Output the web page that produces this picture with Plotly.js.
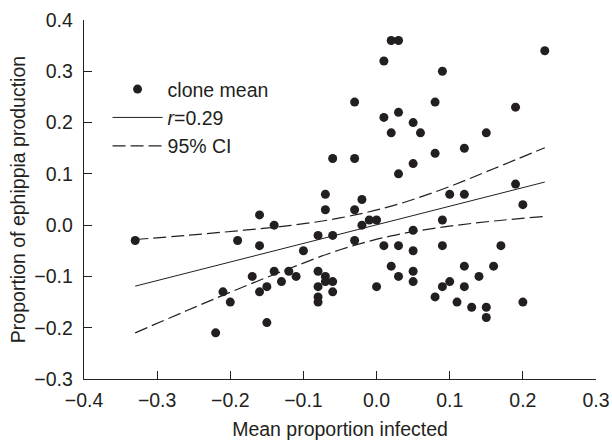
<!DOCTYPE html>
<html>
<head>
<meta charset="utf-8">
<script src="https://cdn.plot.ly/plotly-3.0.1.min.js"></script>
<style>html,body{margin:0;padding:0;background:#fff}#chart{width:612px;height:445px}</style>
</head>
<body>
<div id="chart"></div>
<script>
// Clone means: mean proportion infected (x) vs proportion of ephippia production (y)
const infected = [-0.33,-0.22,-0.21,-0.20,-0.19,-0.17,-0.16,-0.16,-0.16,-0.15,-0.15,-0.14,-0.14,-0.13,-0.12,-0.11,-0.10,
  -0.08,-0.08,-0.08,-0.08,-0.08,-0.07,-0.07,-0.07,-0.07,-0.06,-0.06,-0.06,-0.06,
  -0.03,-0.03,-0.03,-0.03,-0.02,-0.02,-0.01,0.00,0.00,
  0.01,0.01,0.01,0.02,0.02,0.02,0.03,0.03,0.03,0.03,0.03,
  0.05,0.05,0.05,0.05,0.05,0.05,0.06,0.08,0.08,0.08,0.09,0.09,0.09,0.09,0.10,0.10,0.11,
  0.12,0.12,0.12,0.12,0.13,0.14,0.15,0.15,0.15,0.16,0.17,0.19,0.19,0.20,0.20,0.23];
const ephippia = [-0.03,-0.21,-0.13,-0.15,-0.03,-0.10,0.02,-0.04,-0.13,-0.12,-0.19,0.00,-0.09,-0.11,-0.09,-0.10,-0.05,
  -0.02,-0.09,-0.12,-0.14,-0.15,0.06,0.03,-0.10,-0.11,0.13,-0.02,-0.11,-0.13,
  0.24,0.13,0.03,-0.03,0.05,0.00,0.01,0.01,-0.12,
  0.32,0.21,-0.04,0.36,0.18,-0.08,0.36,0.22,0.10,-0.04,-0.10,
  0.20,0.12,-0.01,-0.05,-0.09,-0.11,0.18,0.24,0.14,-0.14,0.30,0.01,-0.04,-0.12,0.06,-0.11,-0.15,
  0.15,0.06,-0.08,-0.12,-0.16,-0.10,0.18,-0.16,-0.18,-0.08,-0.04,0.23,0.08,0.04,-0.15,0.34];

// Regression line (r = 0.29) endpoints
const fitX = [-0.33, 0.23];
const fitY = [-0.119, 0.084];

// 95% confidence band
const ciX     = [-0.33, -0.26, -0.19, -0.12, -0.05, 0.02, 0.09, 0.16, 0.23];
const ciUpper = [-0.028, -0.020, -0.011, -0.001, 0.014, 0.037, 0.070, 0.110, 0.151];
const ciLower = [-0.210, -0.167, -0.125, -0.085, -0.048, -0.021, -0.004, 0.008, 0.017];

const xTicks = [-0.4, -0.3, -0.2, -0.1, 0.0, 0.1, 0.2, 0.3];
const yTicks = [-0.3, -0.2, -0.1, 0.0, 0.1, 0.2, 0.3, 0.4];

const ink = '#231f20';
const fontFam = '"Liberation Sans", Arial, Helvetica, sans-serif';
const fs = 19.5;

const traces = [
  {x: infected, y: ephippia, type: 'scatter', mode: 'markers', name: 'clone mean',
   marker: {size: 9, color: ink}},
  {x: fitX, y: fitY, type: 'scatter', mode: 'lines', name: '<i>r</i>=0.29',
   line: {color: ink, width: 1}},
  {x: ciX, y: ciUpper, type: 'scatter', mode: 'lines', name: '95% CI', legendgroup: 'ci',
   line: {color: ink, width: 1.2, dash: '13px,5px', shape: 'spline'}},
  {x: ciX, y: ciLower, type: 'scatter', mode: 'lines', name: '95% CI', legendgroup: 'ci', showlegend: false,
   line: {color: ink, width: 1.2, dash: '13px,5px', shape: 'spline'}}
];

const axisCommon = {
  showline: true, linecolor: ink, linewidth: 1.3, mirror: false,
  ticks: 'inside', ticklen: 8, tickwidth: 1.2, tickcolor: ink,
  showgrid: false, zeroline: false, tickformat: '.1f',
  tickfont: {family: fontFam, size: fs, color: ink}
};

const layout = {
  width: 612, height: 445,
  margin: {l: 84, r: 16, t: 20, b: 66},
  paper_bgcolor: '#fff', plot_bgcolor: '#fff',
  font: {family: fontFam, size: fs, color: ink},
  showlegend: true,
  legend: {x: 0.046, y: 0.861, xanchor: 'left', yanchor: 'top', bgcolor: 'rgba(0,0,0,0)',
           font: {family: fontFam, size: fs, color: ink}, itemwidth: 50, tracegroupgap: 0},
  xaxis: Object.assign({}, axisCommon, {
    range: [-0.4, 0.3], tickvals: xTicks, ticklabelstandoff: 3,
    title: {text: 'Mean proportion infected', standoff: 12, font: {family: fontFam, size: fs, color: ink}}
  }),
  yaxis: Object.assign({}, axisCommon, {
    range: [-0.3, 0.4], tickvals: yTicks, ticklabelstandoff: 6,
    title: {text: 'Proportion of ephippia production', standoff: 3, font: {family: fontFam, size: fs, color: ink}}
  })
};

Plotly.newPlot('chart', traces, layout, {staticPlot: true, displayModeBar: false});
</script>
</body>
</html>
